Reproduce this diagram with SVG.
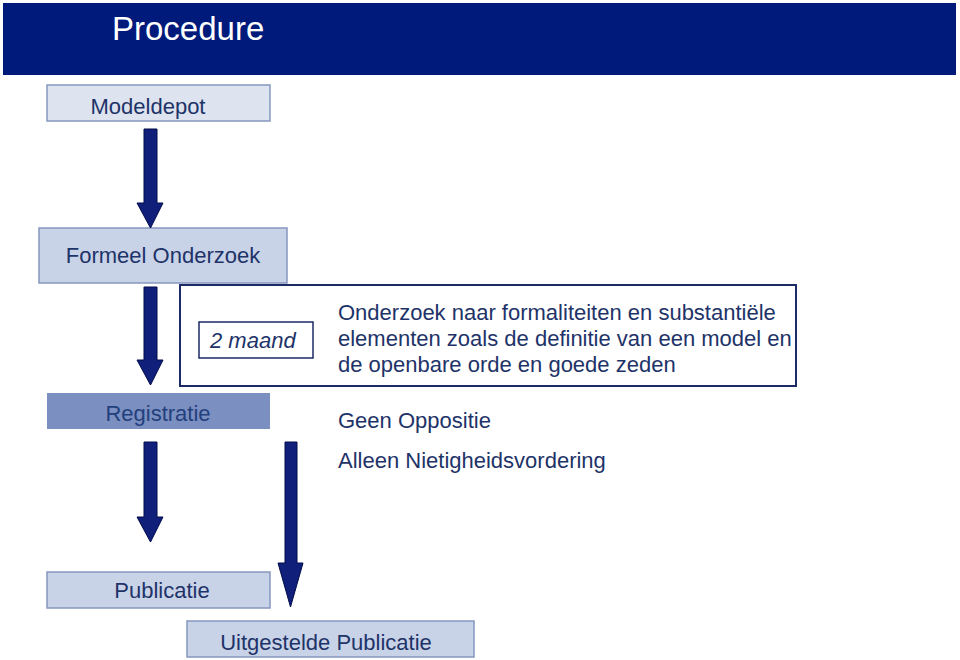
<svg xmlns="http://www.w3.org/2000/svg" width="960" height="660" viewBox="0 0 960 660">
<style>
text{font-family:"Liberation Sans",Arial,sans-serif;fill:#1e3368;font-size:22px}
.box{fill:#c9d3e8;stroke:#8596be;stroke-width:1.5}
.arrow{fill:#0f1f7a;stroke:#020c4a;stroke-width:1}
.c{text-anchor:middle}
</style>
<rect width="960" height="660" fill="#ffffff"/>
<g id="header">
<rect x="3" y="3" width="953" height="72" fill="#001a7b"/>
<text x="112" y="40" style="fill:#ffffff;font-size:33px">Procedure</text>
</g>
<g id="modeldepot">
<rect class="box" x="47" y="85" width="223" height="36" style="fill:#dde3ef"/>
<text class="c" x="148" y="114">Modeldepot</text>
</g>
<g id="formeel">
<rect class="box" x="39" y="228" width="248" height="55"/>
<text class="c" x="163" y="263">Formeel Onderzoek</text>
</g>
<g id="onderzoek">
<rect x="180" y="285" width="616" height="101" fill="#ffffff" stroke="#1c2a66" stroke-width="2"/>
<rect x="199" y="322" width="114" height="36" fill="#ffffff" stroke="#1c2a66" stroke-width="1.5"/>
<text x="210" y="348" font-style="italic">2 maand</text>
<text x="338" y="320">Onderzoek naar formaliteiten en substantiële</text>
<text x="338" y="346">elementen zoals de definitie van een model en</text>
<text x="338" y="372">de openbare orde en goede zeden</text>
</g>
<g id="registratie">
<rect x="47" y="393" width="223" height="36" fill="#7b8fc0"/>
<text class="c" x="158" y="421" style="fill:#23407e">Registratie</text>
</g>
<g id="oppositie">
<text x="338" y="428">Geen Oppositie</text>
<text x="338" y="468">Alleen Nietigheidsvordering</text>
</g>
<g id="publicatie">
<rect class="box" x="47" y="572" width="223" height="36"/>
<text class="c" x="162" y="598">Publicatie</text>
</g>
<g id="uitgestelde">
<rect class="box" x="187" y="621" width="287" height="36"/>
<text class="c" x="326" y="650">Uitgestelde Publicatie</text>
</g>
<g id="connectors">
<path class="arrow" d="M144,129 H157 V203 H163 L150.5,228 L137,203 H144 Z"/>
<path class="arrow" d="M144,287 H157 V360 H163 L150.5,385 L137,360 H144 Z"/>
<path class="arrow" d="M144,442 H157 V517 H163 L150.5,542 L137,517 H144 Z"/>
<path class="arrow" d="M285,442 H297 V563 H303 L290.5,607 L278,563 H285 Z"/>
</g>
</svg>
